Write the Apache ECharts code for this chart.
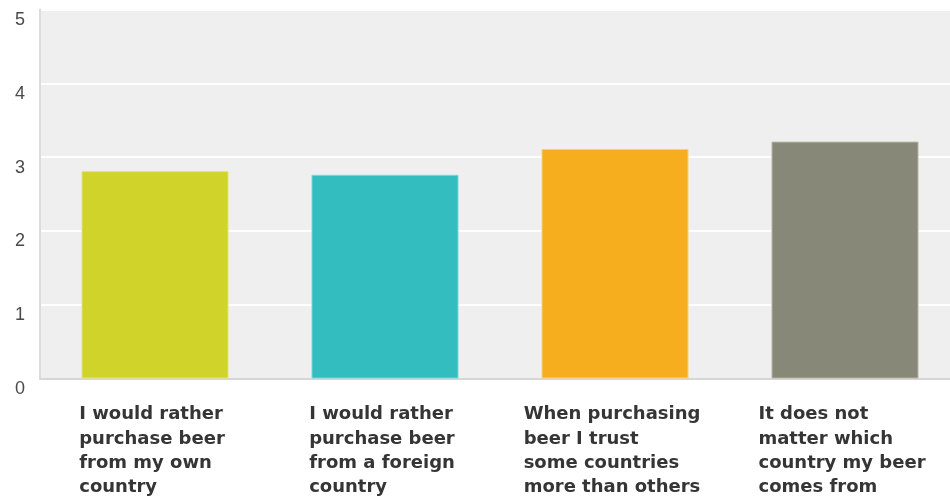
<!DOCTYPE html>
<html>
<head>
<meta charset="utf-8">
<script src="https://cdn.jsdelivr.net/npm/echarts@6/dist/echarts.min.js"></script>
<style>
  html, body { margin: 0; padding: 0; background: #ffffff; }
  #chart { width: 950px; height: 497px; }
</style>
</head>
<body>
<div id="chart"></div>
<script>
// Survey statements (x-axis), shown on four lines each
const categories = [
  'I would rather\npurchase beer\nfrom my own\ncountry',
  'I would rather\npurchase beer\nfrom a foreign\ncountry',
  'When purchasing\nbeer I trust\nsome countries\nmore than others',
  'It does not\nmatter which\ncountry my beer\ncomes from'
];

// Average agreement score per statement
const values = [2.81, 2.76, 3.11, 3.21];

// Fill and edge colour of each bar
const barColors = ['#d0d32a', '#33bdbf', '#f7ae1e', '#888878'];
const barEdges = ['#e2e47a', '#7fd6d7', '#fbcf78', '#b5b5a8'];

// Value axis ticks
const yTicks = [0, 1, 2, 3, 4, 5];

const chart = echarts.init(document.getElementById('chart'));

chart.setOption({
  animation: false,
  grid: {
    left: 40,
    top: 9.5,
    right: -10,
    height: 369,
    outerBoundsMode: 'none',
    containLabel: false,
    backgroundColor: '#efefef',
    show: true,
    borderWidth: 0
  },
  xAxis: {
    type: 'category',
    data: categories,
    axisLine: { show: true, lineStyle: { color: '#d6d6d6', width: 2 } },
    axisTick: { show: false },
    splitLine: { show: false },
    axisLabel: {
      interval: 0,
      margin: 24,
      align: 'center',
      padding: [0, 6, 0, 0],
      formatter: function (v) {
        return v.split('\n').map(function (l) { return '{a|' + l + '}'; }).join('\n');
      },
      rich: {
        a: {
          align: 'left',
          fontFamily: 'DejaVu Sans',
          fontWeight: 'bold',
          fontSize: 18,
          lineHeight: 24.3,
          color: '#353535'
        }
      }
    }
  },
  yAxis: {
    type: 'value',
    min: yTicks[0],
    max: yTicks[yTicks.length - 1],
    interval: 1,
    axisLine: { show: true, lineStyle: { color: '#dcdcdc', width: 2 } },
    axisTick: { show: false },
    splitLine: { show: true, lineStyle: { color: '#ffffff', width: 2 } },
    axisLabel: {
      margin: 15,
      verticalAlign: 'top',
      lineHeight: 21,
      fontFamily: 'Liberation Sans',
      fontSize: 18,
      color: '#4a4a4a',
      formatter: function (v) { return yTicks.indexOf(v) >= 0 ? String(v) : ''; }
    }
  },
  series: [{
    type: 'bar',
    barWidth: 147,
    data: values.map(function (v, i) {
      return {
        value: v,
        itemStyle: { color: barColors[i], borderColor: barEdges[i], borderWidth: 1 }
      };
    })
  }]
});
</script>
</body>
</html>
